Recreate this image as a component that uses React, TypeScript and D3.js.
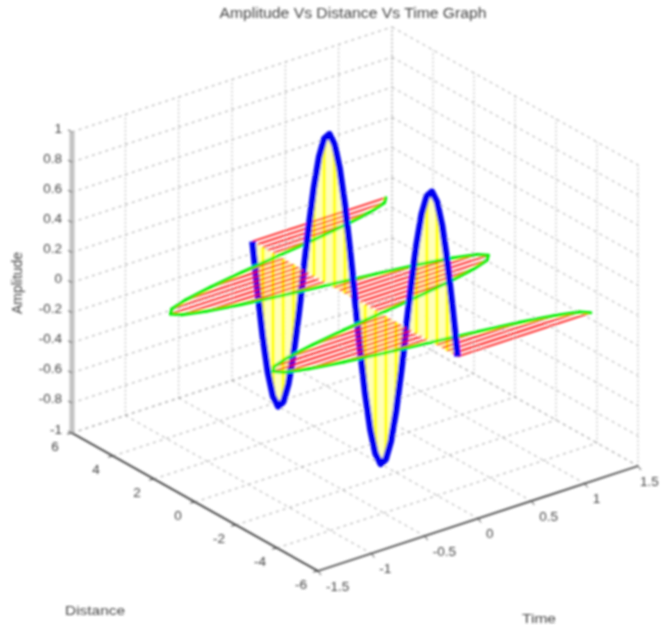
import * as d3 from 'd3';
import React from 'react';

const width = 662;
const height = 627;

// values
const distance = [-5, -4.75, -4.5, -4.25, -4, -3.75, -3.5, -3.25, -3, -2.75, -2.5, -2.25, -2, -1.75, -1.5, -1.25, -1, -0.75, -0.5, -0.25, 0,
    0.25, 0.5, 0.75, 1, 1.25, 1.5, 1.75, 2, 2.25, 2.5, 2.75, 3, 3.25, 3.5, 3.75, 4, 4.25, 4.5, 4.75, 5];
const amplitude = [0, 0.31, 0.59, 0.81, 0.95, 1, 0.95, 0.81, 0.59, 0.31, 0, -0.31, -0.59, -0.81, -0.95, -1, -0.95, -0.81, -0.59, -0.31, 0,
    0.31, 0.59, 0.81, 0.95, 1, 0.95, 0.81, 0.59, 0.31, 0, -0.31, -0.59, -0.81, -0.95, -1, -0.95, -0.81, -0.59, -0.31, 0];
const timeValue = [1.25, 1.19, 1.01, 0.73, 0.39, 0, -0.39, -0.73, -1.01, -1.19, -1.25, -1.19, -1.01, -0.73, -0.39, 0, 0.39, 0.73, 1.01, 1.19, 1.25,
    1.19, 1.01, 0.73, 0.39, 0, -0.39, -0.73, -1.01, -1.19, -1.25, -1.19, -1.01, -0.73, -0.39, 0, 0.39, 0.73, 1.01, 1.19, 1.25];

const amplitudeTicks = [1, 0.8, 0.6, 0.4, 0.2, 0, -0.2, -0.4, -0.6, -0.8, -1];
const distanceTicks = [6, 4, 2, 0, -2, -4, -6];
const timeTicks = [-1.5, -1, -0.5, 0, 0.5, 1, 1.5];

// oblique projection, each scale gives the pixel offset along its axis
const origin = { x: 318, y: 571 };
const timeX = d3.scaleLinear().domain([-1.5, 1.5]).range([0, 320]);
const timeY = d3.scaleLinear().domain([-1.5, 1.5]).range([0, -105]);
const distX = d3.scaleLinear().domain([-6, 6]).range([0, -246]);
const distY = d3.scaleLinear().domain([-6, 6]).range([0, -138]);
const ampY = d3.scaleLinear().domain([-1, 1]).range([0, -301]);

type P = [number, number];
const project = (t: number, d: number, z: number): P => [
    origin.x + timeX(t) + distX(d),
    origin.y + timeY(t) + distY(d) + ampY(z),
];

const line = d3.line<P>();
const idx = d3.range(distance.length);
const segs = (keep: (a: number, b: number) => boolean) =>
    idx.slice(1).filter(i => keep(timeValue[i - 1], timeValue[i])).map(i => [
        project(timeValue[i - 1], distance[i - 1], 0),
        project(timeValue[i], distance[i], 0),
    ] as P[]);

function Seg({ a, b, dash, color = '#a0a0a0', w = 1 }: { a: P; b: P; dash?: string; color?: string; w?: number }) {
    return <line x1={a[0]} y1={a[1]} x2={b[0]} y2={b[1]} stroke={color} strokeWidth={w} strokeDasharray={dash} />;
}

// red hatching and green outline, split so the half behind the blue wave goes under it
function Sheet({ front }: { front: boolean }) {
    const side = (v: number) => (front ? v < 0 : v > 0);
    return (
        <g>
            {idx.filter(i => side(timeValue[i])).map(i => (
                <Seg key={i} a={project(0, distance[i], 0)} b={project(timeValue[i], distance[i], 0)} color="#ff0000" w={1.7} />
            ))}
            {segs((a, b) => side(a) || side(b)).map((s, i) => (
                <path key={i} d={line(s) ?? ''} fill="none" stroke="#00f000" strokeWidth={3} strokeLinecap="round" />
            ))}
        </g>
    );
}

export default function App() {
    const gridDash = '3 4';
    const dotDash = '1.5 2.5';
    const font = { fontFamily: '"Liberation Sans", Arial, sans-serif', fill: '#444' };
    const timeGrid = timeTicks.filter(t => t > -1.5);
    const distGrid = distanceTicks.filter(d => d > -6);

    return (
        <svg width={width} height={height} style={{ position: 'absolute', left: 0, top: 0, display: 'block' }}>
            <defs>
                <filter id="soft" x="-5%" y="-5%" width="110%" height="110%">
                    <feGaussianBlur stdDeviation="0.9" />
                </filter>
            </defs>
            <rect width={width} height={height} fill="#fff" />
            <g filter="url(#soft)">
                {/* walls and floor */}
                {amplitudeTicks.map(z => (
                    <g key={z}>
                        <Seg a={project(-1.5, 6, z)} b={project(1.5, 6, z)} dash={gridDash} />
                        <Seg a={project(1.5, 6, z)} b={project(1.5, -6, z)} dash={gridDash} />
                    </g>
                ))}
                {timeGrid.map(t => (
                    <g key={t}>
                        <Seg a={project(t, 6, -1)} b={project(t, 6, 1)} dash={dotDash} />
                        <Seg a={project(t, 6, -1)} b={project(t, -6, -1)} dash={gridDash} />
                    </g>
                ))}
                {distGrid.map(d => (
                    <g key={d}>
                        <Seg a={project(1.5, d, -1)} b={project(1.5, d, 1)} dash={dotDash} />
                        <Seg a={project(-1.5, d, -1)} b={project(1.5, d, -1)} dash={gridDash} />
                    </g>
                ))}
                <Seg a={project(1.5, -6, -1)} b={project(1.5, -6, 1)} dash={dotDash} />

                {/* axes */}
                <Seg a={project(-1.5, 6, -1)} b={project(-1.5, 6, 1)} color="#c2c2c2" w={5} />
                <Seg a={project(-1.5, 6, -1)} b={project(-1.5, -6, -1)} color="#333" w={1.8} />
                <Seg a={project(-1.5, -6, -1)} b={project(1.5, -6, -1)} color="#444" w={1.8} />
                {amplitudeTicks.map(z => {
                    const [x, y] = project(-1.5, 6, z);
                    return (
                        <g key={z}>
                            <Seg a={[x, y]} b={[x - 4, y - 2]} color="#444" />
                            <text x={x - 10} y={y - 3} textAnchor="end" dominantBaseline="middle" fontSize={13.5} {...font}>{z}</text>
                        </g>
                    );
                })}
                {distanceTicks.map(d => {
                    const [x, y] = project(-1.5, d, -1);
                    return (
                        <g key={d}>
                            <Seg a={[x, y]} b={[x - 5, y + 1]} color="#444" />
                            <text x={x - 17} y={y + 14} textAnchor="middle" dominantBaseline="middle" fontSize={13.5} {...font}>{d}</text>
                        </g>
                    );
                })}
                {timeTicks.map(t => {
                    const [x, y] = project(t, -6, -1);
                    return (
                        <g key={t}>
                            <Seg a={[x, y]} b={[x + 3, y + 4]} color="#444" />
                            <text x={Math.min(x + 8, 640)} y={y + 16} dominantBaseline="middle" fontSize={13.5} {...font}>{t}</text>
                        </g>
                    );
                })}

                {/* yellow stems: pale under all samples, strong on every other one */}
                {idx.map(i => (
                    <Seg key={i} a={project(0, distance[i], 0)} b={project(0, distance[i], amplitude[i])} color="#ffffb8" w={5.2} />
                ))}
                {idx.filter(i => i % 2 === 0).map(i => (
                    <Seg key={i} a={project(0, distance[i], 0)} b={project(0, distance[i], amplitude[i])} color="#ffff00" w={3.6} />
                ))}
                <Sheet front={false} />
                <path
                    d={line(idx.map(i => project(0, distance[i], amplitude[i]))) ?? ''}
                    fill="none" stroke="#0000f0" strokeWidth={6.5} strokeLinejoin="round"
                />
                <Sheet front />

                <text x={353} y={14} textAnchor="middle" dominantBaseline="middle" fontSize={14} textLength={267} lengthAdjust="spacingAndGlyphs" {...font}>Amplitude Vs Distance Vs Time Graph</text>
                <text x={95} y={611} textAnchor="middle" dominantBaseline="middle" fontSize={13.5} textLength={60} lengthAdjust="spacingAndGlyphs" {...font}>Distance</text>
                <text x={539} y={619} textAnchor="middle" dominantBaseline="middle" fontSize={13.5} textLength={34} lengthAdjust="spacingAndGlyphs" {...font}>Time</text>
                <text transform="translate(18,283) rotate(-90)" textAnchor="middle" dominantBaseline="middle" fontSize={14} {...font}>Amplitude</text>
            </g>
        </svg>
    );
}
